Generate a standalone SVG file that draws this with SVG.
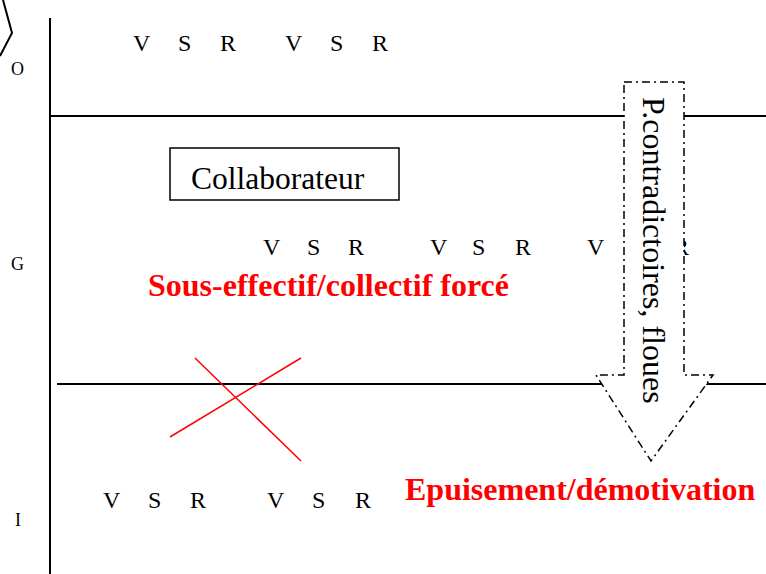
<svg xmlns="http://www.w3.org/2000/svg" width="766" height="574" viewBox="0 0 766 574" font-family="'Liberation Serif', 'Times New Roman', serif">
<style>
.ln{stroke:#000;stroke-width:2;fill:none}
.dash{stroke:#000;stroke-width:1.5;fill:#fff;stroke-dasharray:8 4 2 4}
</style>
<rect width="766" height="574" fill="#fff"/>
<g id="axes">
<polyline class="ln" points="3,0 12,33 0,56"/>
<line class="ln" x1="50" y1="18" x2="50" y2="574"/>
<line class="ln" x1="50" y1="116" x2="766" y2="116"/>
<line class="ln" x1="57" y1="384" x2="766" y2="384"/>
<text x="11" y="75" font-size="18" font-family="Liberation Serif, serif">O</text>
<text x="11" y="270" font-size="18" font-family="Liberation Serif, serif">G</text>
<text x="15" y="526" font-size="18" font-family="Liberation Serif, serif">I</text>
</g>
<g id="row-top" font-size="24" font-family="Liberation Serif, serif">
<text x="133" y="51">V</text><text x="178" y="51">S</text><text x="220" y="51">R</text>
<text x="285" y="51">V</text><text x="330" y="51">S</text><text x="372" y="51">R</text>
</g>
<g id="row-mid" font-size="24" font-family="Liberation Serif, serif">
<text x="263" y="255">V</text><text x="307" y="255">S</text><text x="348" y="255">R</text>
<text x="430" y="255">V</text><text x="472" y="255">S</text><text x="515" y="255">R</text>
<text x="587" y="255">V</text><text x="631" y="255">S</text><text x="673" y="255">R</text>
</g>
<g id="row-bottom" font-size="24" font-family="Liberation Serif, serif">
<text x="103" y="508">V</text><text x="148" y="508">S</text><text x="190" y="508">R</text>
<text x="267" y="508">V</text><text x="312" y="508">S</text><text x="355" y="508">R</text>
</g>
<g id="collaborateur">
<rect x="170" y="148" width="229" height="52" fill="#fff" stroke="#000" stroke-width="1.5"/>
<text x="191" y="189" font-size="31.5" font-family="Liberation Serif, serif">Collaborateur</text>
</g>
<g id="sous-effectif">
<text x="148" y="296" font-size="32" font-weight="bold" fill="#ff0000" font-family="Liberation Serif, serif">Sous-effectif/collectif forcé</text>
</g>
<g id="cross">
<line x1="195" y1="358" x2="301" y2="461" stroke="#ff0000" stroke-width="1.5"/>
<line x1="170" y1="437" x2="301" y2="358" stroke="#ff0000" stroke-width="1.5"/>
</g>
<g id="epuisement">
<text x="405" y="500" font-size="32" font-weight="bold" fill="#ff0000" font-family="Liberation Serif, serif">Epuisement/démotivation</text>
</g>
<g id="arrow">
<polygon class="dash" points="624,82 684,82 684,375 713,375 651,461 596,375 624,375"/>
<text font-size="32" font-family="Liberation Serif, serif" transform="translate(643,97) rotate(90)">P.contradictoires, floues</text>
</g>
</svg>
